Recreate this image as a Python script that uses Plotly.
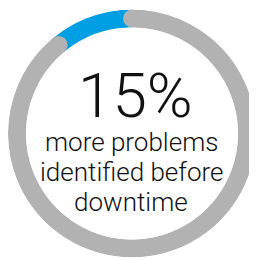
import plotly.graph_objects as go

# ---- data ----
segments = ["highlight", "rest"]
shares = [11, 89]            # visible arc shares (percent of ring)
seg_colors = ["#009FE3", "#B2B2B2"]
headline = "15%"
caption_lines = ["more problems", "identified before", "downtime"]

# ---- page geometry (browser body has an 8px margin) ----
OFF = 8
W, H = 257 - OFF, 260 - OFF


def px(x):
    return (x - OFF) / W


def py(y):
    return 1 - (y - OFF) / H


# ---- geometry derived from data ----
total = sum(shares)
widths = [360 * s / total for s in shares]
centers = []
start = 0
for w in widths:
    centers.append(start + w / 2)
    start += w
cap_thetas = [0, widths[0]]   # rounded ends of the grey arc

fig = go.Figure()
fig.add_trace(go.Barpolar(
    r=[1] * len(shares), theta=centers, width=widths,
    marker=dict(color=seg_colors, line=dict(width=0)),
    hoverinfo="skip", showlegend=False,
))
fig.add_trace(go.Scatterpolar(
    r=[0.5] * len(cap_thetas), theta=cap_thetas, mode="markers",
    marker=dict(size=18, color=seg_colors[1], line=dict(width=0)),
    hoverinfo="skip", showlegend=False,
))

fig.update_layout(
    width=W, height=H,
    margin=dict(l=0, r=0, t=0, b=0),
    paper_bgcolor="white", plot_bgcolor="white",
    polar=dict(
        domain=dict(x=[px(8), px(256)], y=[py(257.5), py(9.5)]),
        hole=0.855,
        bgcolor="rgba(0,0,0,0)",
        bargap=0,
        radialaxis=dict(visible=False, range=[0, 1]),
        angularaxis=dict(rotation=90, direction="counterclockwise",
                         showgrid=False, showline=False, ticks="",
                         showticklabels=False),
    ),
)

font_family = "Roboto"
fig.add_annotation(text=headline, x=px(135), y=py(95.3), xref="paper", yref="paper",
                   showarrow=False, xanchor="center", yanchor="middle",
                   font=dict(family=font_family, size=62, color="#111111", weight=300))
ys = [142, 172, 201.5]
for line, yy in zip(caption_lines, ys):
    fig.add_annotation(text=line, x=px(131), y=py(yy), xref="paper", yref="paper",
                       showarrow=False, xanchor="center", yanchor="middle",
                       font=dict(family=font_family, size=26, color="#111111", weight=300))

fig.write_html("out.html")
